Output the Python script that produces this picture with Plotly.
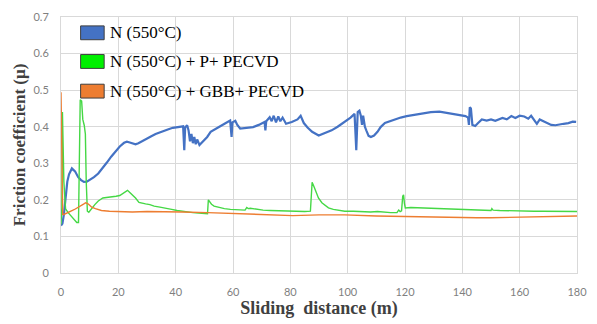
import plotly.graph_objects as go

# ---- data ----
series_names = ["N (550°C)", "N (550°C) + P+ PECVD", "N (550°C) + GBB+ PECVD"]

n_x = [0, 0.5, 1.0, 1.5, 2.2, 2.8, 3.8, 4.9, 6.0, 7.0, 8.0, 9.0, 10.0, 11.5, 13.0, 14.5, 16.0, 17.5,
       19.0, 20.5, 22.0, 23.0, 24.0, 25.0, 26.0, 27.0, 28.5, 30.0, 31.5, 33.0, 34.5, 36.0, 37.5, 39.0,
       40.5, 42.0, 42.6, 43.0, 43.3, 44.0, 44.5, 45.0, 45.5, 46.0, 46.5, 47.0, 47.5, 48.3, 49.5, 51.0,
       52.2, 54.0, 55.7, 57.5, 59.0, 59.5, 59.8, 60.8, 61.5, 62.5, 64.5, 67.0, 69.0, 71.0, 71.3, 71.6,
       72.8, 73.5, 74.2, 75.0, 75.8, 76.5, 77.3, 78.5, 80.5, 82.5, 83.6, 84.2, 84.7, 86.0, 87.6, 89.9,
       92.0, 94.4, 96.5, 99.0, 101.0, 102.4, 103.0, 103.5, 104.1, 104.6, 105.0, 105.4, 106.0, 106.5,
       107.3, 108.1, 109.2, 110.4, 111.5, 113.0, 114.9, 116.1, 118.5, 120.6, 123.5, 126.3, 129.0, 132.0,
       134.5, 136.6, 139.0, 141.1, 142.0, 142.3, 142.6, 143.0, 143.5, 144.5, 145.5, 146.8, 148.5, 150.0,
       151.5, 152.5, 154.0, 155.5, 157.1, 158.5, 160.0, 161.6, 163.0, 164.0, 165.0, 166.0, 167.0, 168.5,
       170.0, 171.0, 172.5, 174.0, 175.3, 177.0, 178.5, 179.7]
n_y = [0.13, 0.135, 0.16, 0.205, 0.25, 0.27, 0.286, 0.278, 0.262, 0.254, 0.249, 0.25, 0.255, 0.262,
       0.272, 0.286, 0.302, 0.318, 0.333, 0.346, 0.356, 0.359, 0.357, 0.354, 0.352, 0.355, 0.362, 0.368,
       0.374, 0.38, 0.385, 0.389, 0.393, 0.397, 0.398, 0.4, 0.401, 0.336, 0.398, 0.404, 0.39, 0.36,
       0.38, 0.355, 0.372, 0.352, 0.365, 0.35, 0.36, 0.372, 0.386, 0.395, 0.402, 0.41, 0.417, 0.372,
       0.412, 0.416, 0.405, 0.395, 0.396, 0.399, 0.405, 0.413, 0.39, 0.415, 0.426, 0.415, 0.43, 0.412,
       0.428, 0.415, 0.425, 0.408, 0.413, 0.42, 0.43, 0.418, 0.41, 0.398, 0.386, 0.376, 0.382, 0.39,
       0.4, 0.413, 0.425, 0.435, 0.336, 0.44, 0.444, 0.43, 0.405, 0.43, 0.4, 0.39, 0.375, 0.372, 0.376,
       0.386, 0.399, 0.41, 0.415, 0.42, 0.425, 0.429, 0.433, 0.438, 0.44, 0.441, 0.438, 0.435, 0.432,
       0.429, 0.425, 0.405, 0.453, 0.45, 0.405, 0.402, 0.41, 0.42, 0.417, 0.42, 0.416, 0.42, 0.424,
       0.42, 0.429, 0.424, 0.43, 0.428, 0.422, 0.43, 0.42, 0.408, 0.42, 0.414, 0.41, 0.405, 0.404,
       0.407, 0.408, 0.41, 0.414, 0.413]

p_x = [0, 0.3, 0.5, 0.8, 1.0, 1.3, 1.6, 2.5, 3.5, 4.5, 5.5, 6.1, 6.5, 6.7, 7.2, 7.6, 8.1, 8.5, 8.8,
       9.2, 9.7, 10.5, 11.8, 13.0, 14.6, 16.5, 18.0, 19.2, 20.5, 21.5, 22.5, 23.2, 24.0, 24.9, 26.0,
       27.2, 28.5, 29.5, 31.0, 32.5, 34.5, 36.3, 38.6, 40.5, 42.0, 44.0, 46.0, 48.0, 50.0, 51.1, 51.4,
       51.8, 52.5, 53.4, 55.0, 57.0, 59.1, 61.0, 63.0, 64.2, 64.8, 65.3, 66.0, 68.0, 70.5, 73.0, 76.0,
       78.5, 80.8, 83.0, 85.0, 87.0, 87.3, 87.6, 88.3, 89.0, 89.8, 91.0, 92.3, 93.3, 95.0, 97.0, 99.0,
       102.0, 104.0, 106.0, 108.0, 110.4, 113.0, 115.0, 117.2, 117.8, 118.3, 118.8, 119.2, 119.5, 119.8,
       120.1, 122.0, 125.0, 127.5, 130.0, 133.0, 136.0, 138.9, 142.0, 145.0, 148.0, 150.0, 150.3, 150.7,
       153.0, 156.0, 158.0, 161.6, 165.0, 168.0, 171.0, 173.0, 176.0, 178.0, 179.5, 180.0]
p_y = [0.133, 0.18, 0.44, 0.3, 0.25, 0.21, 0.175, 0.165, 0.155, 0.145, 0.138, 0.138, 0.3, 0.474,
       0.47, 0.42, 0.404, 0.38, 0.25, 0.169, 0.166, 0.175, 0.187, 0.197, 0.205, 0.207, 0.208, 0.21,
       0.212, 0.218, 0.224, 0.226, 0.22, 0.214, 0.205, 0.193, 0.19, 0.189, 0.187, 0.183, 0.18, 0.178,
       0.174, 0.171, 0.169, 0.167, 0.165, 0.164, 0.163, 0.162, 0.2, 0.195, 0.188, 0.183, 0.179, 0.176,
       0.174, 0.173, 0.173, 0.172, 0.179, 0.176, 0.177, 0.174, 0.172, 0.171, 0.17, 0.169, 0.168,
       0.169, 0.168, 0.169, 0.23, 0.248, 0.235, 0.22, 0.205, 0.192, 0.183, 0.178, 0.174, 0.171, 0.169,
       0.169, 0.168, 0.168, 0.167, 0.168, 0.166, 0.165, 0.165, 0.172, 0.168, 0.17, 0.21, 0.214, 0.19,
       0.178, 0.179, 0.178, 0.178, 0.177, 0.176, 0.175, 0.174, 0.173, 0.172, 0.171, 0.171, 0.176,
       0.172, 0.171, 0.17, 0.17, 0.169, 0.169, 0.169, 0.169, 0.169, 0.168, 0.169, 0.167, 0.168]

g_x = [0, 0.2, 0.4, 0.6, 1.0, 2.0, 3.0, 4.0, 5.0, 6.0, 7.0, 8.0, 8.6, 9.3, 10.0, 10.7, 12.0, 14.1,
       16.9, 20.0, 24.9, 30.0, 35.0, 42.0, 51.1, 58.0, 64.8, 72.0, 80.8, 90.0, 99.0, 110.0, 116.0,
       120.0, 125.0, 130.0, 135.0, 140.0, 145.0, 150.0, 155.0, 160.0, 165.0, 170.0, 175.0, 180.0]
g_y = [0.494, 0.4, 0.25, 0.16, 0.16, 0.163, 0.167, 0.171, 0.175, 0.179, 0.184, 0.189, 0.192, 0.19,
       0.185, 0.18, 0.176, 0.171, 0.169, 0.168, 0.167, 0.168, 0.168, 0.167, 0.165, 0.163, 0.162,
       0.159, 0.157, 0.159, 0.159, 0.156, 0.155, 0.154, 0.153, 0.152, 0.151, 0.151, 0.151, 0.151,
       0.152, 0.153, 0.154, 0.155, 0.155, 0.156]

x_ticks = [0, 20, 40, 60, 80, 100, 120, 140, 160, 180]
y_ticks = [0, 0.1, 0.2, 0.3, 0.4, 0.5, 0.6, 0.7]

line_colors = ["#4472C4", "#45D845", "#ED7D31"]
swatch_colors = ["#4472C4", "#00F000", "#ED7D31"]
line_widths = [2.2, 1.4, 1.4]

SERIF = "Liberation Serif, Times New Roman, DejaVu Serif, serif"

fig = go.Figure()
for name, xs, ys, c, w in zip(series_names, [n_x, p_x, g_x], [n_y, p_y, g_y], line_colors, line_widths):
    fig.add_trace(go.Scatter(x=xs, y=ys, mode="lines", name=name,
                             line=dict(color=c, width=w), showlegend=False))

# custom legend (rectangular swatches like the reference)
pw, ph = 526.0, 259.0
rows_px = [33, 62, 92]
for name, c, ry in zip(series_names, swatch_colors, rows_px):
    yc = (276 - ry) / ph
    fig.add_shape(type="rect", xref="paper", yref="paper",
                  x0=(81 - 61) / pw, x1=(105 - 61) / pw,
                  y0=yc - 7 / ph, y1=yc + 7 / ph,
                  fillcolor=c, line=dict(color="#3F3F3F", width=1))
    fig.add_annotation(xref="paper", yref="paper", x=(109 - 61) / pw, y=yc,
                       xanchor="left", yanchor="middle", showarrow=False, text=name,
                       font=dict(family=SERIF, size=17, color="#000000"))

axis_common = dict(showgrid=True, gridcolor="#D9D9D9", gridwidth=1, zeroline=False,
                   showline=True, linecolor="#D9D9D9", linewidth=1, mirror=True,
                   ticks="outside", ticklen=9, tickcolor="rgba(0,0,0,0)",
                   tickfont=dict(family="Lato", size=11, color="#7F7F7F"))

fig.update_xaxes(range=[0, 180], tickvals=x_ticks, **axis_common,
                 title=dict(text="<b>Sliding  distance (m)</b>", standoff=3,
                            font=dict(family=SERIF, size=18, color="#404040")))
fig.update_yaxes(range=[0, 0.7], tickvals=y_ticks, **axis_common,
                 title=dict(text="<b>Friction coefficient (μ)</b>", standoff=3,
                            font=dict(family=SERIF, size=17, color="#404040")))

fig.update_layout(width=597, height=324, margin=dict(l=61, r=10, t=17, b=48),
                  paper_bgcolor="white", plot_bgcolor="white")

fig.write_html("out.html", config={"displayModeBar": False},
               post_script="document.body.style.margin='0px';")
